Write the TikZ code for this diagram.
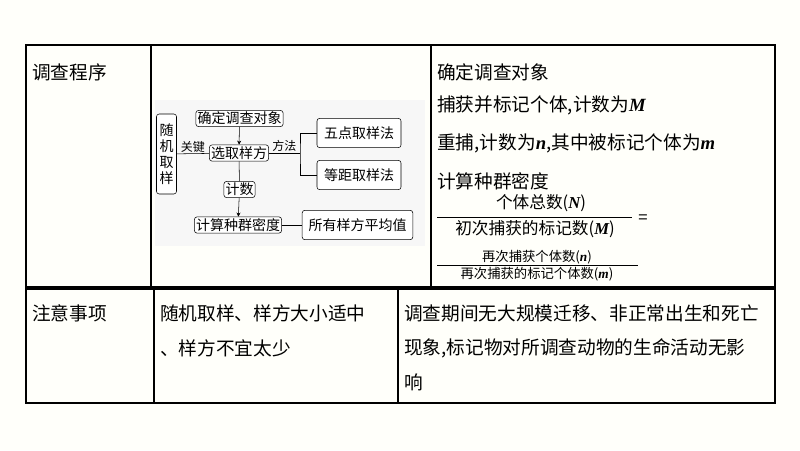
\documentclass[tikz,border=0pt]{standalone}
\usepackage{fontspec}
\usetikzlibrary{arrows.meta}
\setmainfont{Noto Sans CJK SC}
\newfontfamily\lat{Liberation Serif}
\newcommand{\vb}[1]{{\lat\bfseries\itshape #1}}
\begin{document}
\begin{tikzpicture}[x=0.75pt,y=-0.75pt]
  \tikzset{
    cell/.style={anchor=west, inner sep=0pt, font=\fontsize{14}{16}\selectfont},
    fbox/.style={draw, rounded corners=2pt, inner sep=1.2pt, font=\fontsize{10.5}{12}\selectfont, fill=white},
    lab/.style={font=\fontsize{9}{10}\selectfont, inner sep=1pt},
    frac/.style={inner sep=0pt, font=\fontsize{12.5}{14}\selectfont},
    sfrac/.style={inner sep=0pt, font=\fontsize{10}{12}\selectfont},
    tline/.style={line width=0.8pt},
    arr/.style={-{Stealth[length=3pt,width=3pt]}}
  }
  \fill[yellow!2] (0,0) rectangle (800,450);
  % tables
  \draw[tline] (26,45) rectangle (775,287);
  \draw[tline] (151,45) -- (151,287) (431,45) -- (431,287);
  \draw[tline] (26,289) rectangle (775,403);
  \draw[tline] (154,289) -- (154,403) (398,289) -- (398,403);
  \fill[gray!6] (155,100) rectangle (425,246);

  % flow chart
  \node[fbox, minimum width=15pt, minimum height=60pt, align=center, text width=10.5pt] (rand) at (166.5,154) {随\\机\\取\\样};
  \node[fbox] (obj) at (239.5,118.5) {确定调查对象};
  \node[fbox] (sel) at (239,153) {选取样方};
  \node[fbox, minimum width=63pt, minimum height=22pt] (five) at (359,133) {五点取样法};
  \node[fbox, minimum width=63pt, minimum height=22pt] (equ) at (359,175) {等距取样法};
  \node[fbox] (cnt) at (239.5,189.5) {计数};
  \node[fbox] (calc) at (238,225) {计算种群密度};
  \node[fbox, minimum width=83pt, minimum height=22pt] (avg) at (357.5,225) {所有样方平均值};
  \coordinate (br) at (300,153);

  \draw (rand) -- (sel) node[lab, midway, above] {关键};
  \draw (sel) -- (br) node[lab, midway, above] {方法};
  \draw (five.west) -| (br) |- (equ.west);
  \draw[arr] (obj) -- (sel);
  \draw (sel) -- (cnt);
  \draw[arr] (cnt) -- (calc);
  \draw (calc) -- (avg);

  % row 1 texts
  \node[cell] (h1) at (32,72) {调查程序};
  \node[cell] (t1) at (437,72) {确定调查对象};
  \node[cell] (t2) at (437,105) {捕获并标记个体,计数为\vb{M}};
  \node[cell] (t3) at (437,143) {重捕,计数为\vb{n},其中被标记个体为\vb{m}};
  \node[cell] (t4) at (437,181) {计算种群密度};
  \node[frac] (n1) at (541,203) {个体总数(\vb{N})};
  \node[frac] (d1) at (535,229) {初次捕获的标记数(\vb{M})};
  \draw (437,217) -- (632,217);
  \node[frac] (eq) at (643,219) {=};
  \node[sfrac] (n2) at (537,257) {再次捕获个体数(\vb{n})};
  \node[sfrac] (d2) at (537,274) {再次捕获的标记个体数(\vb{m})};
  \draw (437,265.5) -- (638,265.5);

  % row 2 texts
  \node[cell] (h2) at (32,313) {注意事项};
  \node[cell] (m1) at (160,313) {随机取样、样方大小适中};
  \node[cell] (m2) at (160,348) {、样方不宜太少};
  \node[cell] (r1) at (404,313) {调查期间无大规模迁移、非正常出生和死亡};
  \node[cell] (r2) at (404,348) {现象,标记物对所调查动物的生命活动无影};
  \node[cell] (r3) at (404,382) {响};
\end{tikzpicture}
\end{document}
